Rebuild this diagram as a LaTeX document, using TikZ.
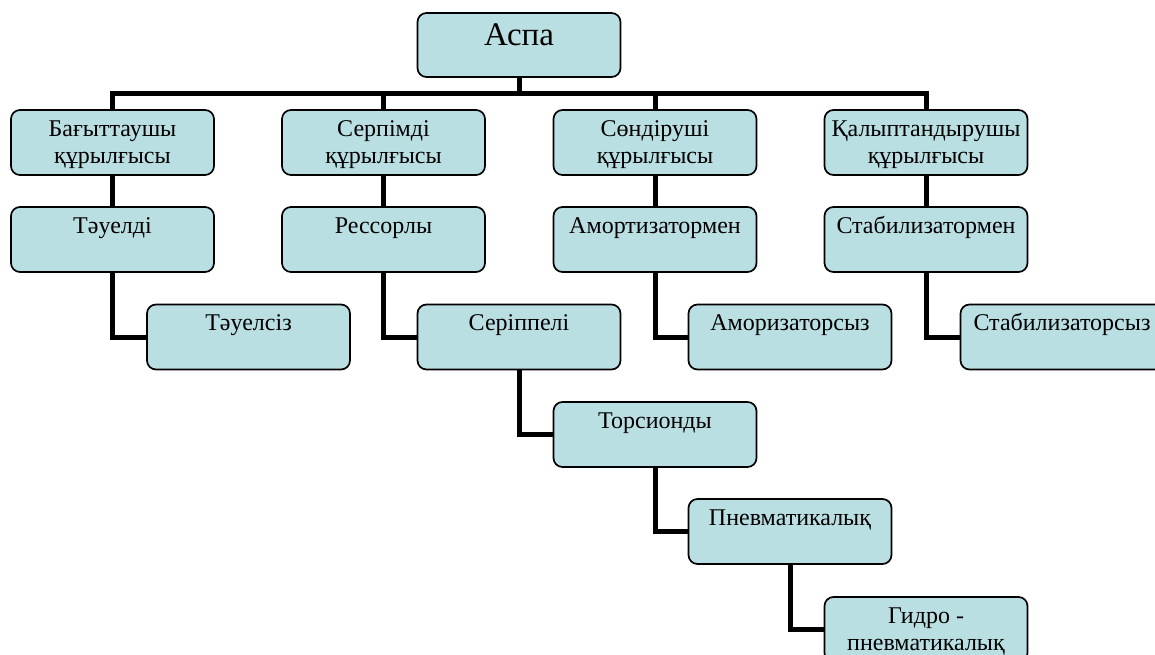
\documentclass[tikz,border=0pt]{standalone}
\usepackage{fontspec}
\setmainfont{Liberation Serif}
\usetikzlibrary{backgrounds}
\definecolor{boxfill}{RGB}{186,223,226}
\newcommand{\bx}[1]{\parbox[c][50pt][t]{200pt}{\centering\strut #1}}
\begin{document}
\begin{tikzpicture}[x=1pt,y=-1pt,
  box/.style={draw=black, line width=1.7pt, rounded corners=9pt, fill=boxfill,
    minimum width=203pt, minimum height=65pt, inner sep=0pt,
    font=\fontsize{24}{27}\selectfont},
  topbox/.style={box, minimum height=64pt, font=\fontsize{33}{38}\selectfont,
    text height=22pt, text depth=20pt},
  conn/.style={draw=black, line width=5pt, line join=miter}]
\useasboundingbox (0,0) rectangle (1155,655);
\clip (0,0) rectangle (1155,655);
% boxes
\node[topbox] (aspa) at (519,45) {Аспа};
\node[box] (b1) at (112.5,142.5) {\bx{Бағыттаушы\\құрылғысы}};
\node[box] (b2) at (383.5,142.5) {\bx{Серпімді\\құрылғысы}};
\node[box] (b3) at (655,142.5) {\bx{Сөндіруші\\құрылғысы}};
\node[box] (b4) at (926,142.5) {\bx{Қалыптандырушы\\құрылғысы}};
\node[box] (t1) at (112.5,239.5) {\bx{Тәуелді}};
\node[box] (r1) at (383.5,239.5) {\bx{Рессорлы}};
\node[box] (a1) at (655,239.5) {\bx{Амортизатормен}};
\node[box] (s1) at (926,239.5) {\bx{Стабилизатормен}};
\node[box] (t2) at (248.5,337) {\bx{Тәуелсіз}};
\node[box] (r2) at (519,337) {\bx{Серіппелі}};
\node[box] (a2) at (790,337) {\bx{Аморизаторсыз}};
\node[box] (s2) at (1062,337) {\bx{Стабилизаторсыз}};
\node[box] (r3) at (655,434.5) {\bx{Торсионды}};
\node[box] (r4) at (790,531.5) {\bx{Пневматикалық}};
\node[box] (r5) at (926,629.5) {\bx{Гидро -\\пневматикалық}};
\coordinate (bus) at (519,94);
% connectors
\begin{scope}[on background layer]
\draw[conn] (aspa.south) -- (aspa.south |- bus);
\draw[conn] (b1.north) -- (b1.north |- bus) -- (b4.north |- bus) -- (b4.north);
\draw[conn] (b2.north |- bus) -- (b2.north);
\draw[conn] (b3.north |- bus) -- (b3.north);
\draw[conn] (b1.south) -- (t1.north);
\draw[conn] (b2.south) -- (r1.north);
\draw[conn] (b3.south) -- (a1.north);
\draw[conn] (b4.south) -- (s1.north);
\draw[conn] (t1.south) |- (t2.west);
\draw[conn] (r1.south) |- (r2.west);
\draw[conn] (a1.south) |- (a2.west);
\draw[conn] (s1.south) |- (s2.west);
\draw[conn] (r2.south) |- (r3.west);
\draw[conn] (r3.south) |- (r4.west);
\draw[conn] (r4.south) |- (r5.west);
\end{scope}
\end{tikzpicture}
\end{document}
